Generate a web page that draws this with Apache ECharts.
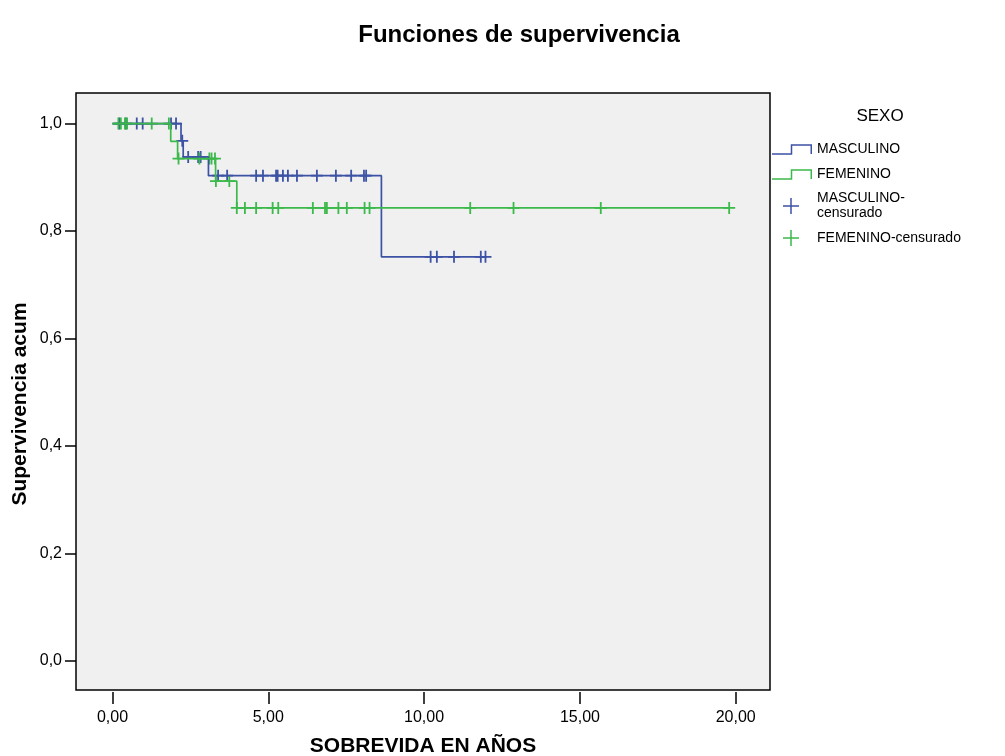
<!DOCTYPE html>
<html>
<head>
<meta charset="utf-8">
<title>Funciones de supervivencia</title>
<script src="https://cdn.jsdelivr.net/npm/echarts@6/dist/echarts.min.js"></script>
<style>
  html, body { margin: 0; padding: 0; background: #fff; }
  #chart { width: 1005px; height: 756px; }
</style>
</head>
<body>
<div id="chart"></div>
<script>
// curvas de Kaplan-Meier (tiempo del escalon, supervivencia despues)
var mascTimes = [0, 2.20, 2.27, 3.08, 8.63, 11.97]
var mascSurv = [1.0, 0.968, 0.938, 0.903, 0.752, 0.752]
var femTimes = [0, 1.87, 2.09, 3.31, 3.99, 19.79]
var femSurv = [1.0, 0.967, 0.935, 0.893, 0.843, 0.843]

// casos censurados (años)
var mascCens = [0.22, 0.43, 0.78, 0.97, 1.88, 2.04, 2.24, 2.43, 2.75, 2.83,
  3.39, 3.68, 4.61, 4.83, 5.25, 5.30, 5.47, 5.63, 5.92, 6.56, 7.17, 7.66, 8.07, 8.14,
  10.21, 10.41, 10.96, 11.82, 11.97]
var femCens = [0.19, 0.27, 0.40, 0.47, 1.26, 1.81, 2.12, 2.79, 3.11, 3.18, 3.29,
  3.32, 3.75, 3.99, 4.25, 4.61, 5.14, 5.32, 6.43, 6.82, 6.88, 7.25, 7.52, 8.09, 8.25,
  11.48, 12.87, 15.67, 19.79]

var xTicks = [0, 5, 10, 15, 20]
var yTicks = [0, 0.2, 0.4, 0.6, 0.8, 1.0]

var BLUE = '#3c52a5'
var GREEN = '#3cb94b'
var FONT = 'Arial, "Liberation Sans", sans-serif'

var PLUS = 'path://M8.5,0H11.5V8.5H20V11.5H11.5V20H8.5V11.5H0V8.5H8.5Z'
var STEP_ICON = 'path://M0,0L0.01,0M40,16L39.99,16M0,12.25H18.75V3.25H40V13H38.5V4.75H20.25V13.75H0Z'
var PLUS_ICON = 'path://M0,0L0.01,0M40,16L39.99,16M18.25,0H19.75V7.25H27V8.75H19.75V16H18.25V8.75H11V7.25H18.25Z'

function zip(xs, ys) {
  return xs.map(function (x, i) { return [x, ys[i]] })
}

// nivel de la curva en el tiempo t
function levelAt(times, surv, t) {
  var v = surv[0]
  for (var i = 0; i < times.length; i++) {
    if (times[i] <= t) v = surv[i]
  }
  return v
}

function censPoints(cens, times, surv) {
  return cens.map(function (t) { return [t, levelAt(times, surv, t)] })
}

var chart = echarts.init(document.getElementById('chart'))

chart.setOption({
  animation: false,
  backgroundColor: '#fff',
  title: {
    text: 'Funciones de supervivencia',
    left: 514,
    top: 18,
    textAlign: 'center',
    textStyle: { fontFamily: FONT, fontSize: 24, fontWeight: 'bold', color: '#000' }
  },
  graphic: [
    {
      type: 'text',
      x: 20,
      y: 404,
      rotation: Math.PI / 2,
      style: {
        text: 'Supervivencia acum',
        font: 'bold 21px ' + FONT,
        fill: '#000',
        align: 'center',
        verticalAlign: 'middle'
      }
    },
    {
      type: 'text',
      x: 880,
      y: 116,
      style: {
        text: 'SEXO',
        font: '17px ' + FONT,
        fill: '#000',
        align: 'center',
        verticalAlign: 'middle'
      }
    }
  ],
  legend: {
    orient: 'vertical',
    left: 772,
    top: 141,
    padding: 0,
    itemGap: 9,
    itemWidth: 40,
    itemHeight: 16,
    selectedMode: false,
    textStyle: { fontFamily: FONT, fontSize: 14, lineHeight: 15, color: '#000' },
    formatter: function (name) {
      return name === 'MASCULINO-censurado' ? 'MASCULINO-\ncensurado' : name
    },
    data: [
      { name: 'MASCULINO', icon: STEP_ICON, itemStyle: { color: BLUE, borderWidth: 0 } },
      { name: 'FEMENINO', icon: STEP_ICON, itemStyle: { color: GREEN, borderWidth: 0 } },
      { name: 'MASCULINO-censurado', icon: PLUS_ICON, itemStyle: { color: BLUE, borderWidth: 0 } },
      { name: 'FEMENINO-censurado', icon: PLUS_ICON, itemStyle: { color: GREEN, borderWidth: 0 } }
    ]
  },
  grid: {
    left: 76,
    right: 235,
    top: 93,
    bottom: 66,
    outerBoundsMode: 'none',
    containLabel: false,
    show: true,
    backgroundColor: '#f0f0f0',
    borderColor: '#000',
    borderWidth: 1.5
  },
  xAxis: {
    type: 'value',
    min: -1.17,
    max: 21.1,
    offset: 2,
    name: 'SOBREVIDA EN AÑOS',
    nameLocation: 'middle',
    nameGap: 44,
    nameTextStyle: { fontFamily: FONT, fontSize: 21, fontWeight: 'bold', color: '#000' },
    axisLine: { show: false, onZero: false },
    splitLine: { show: false },
    axisTick: {
      show: true,
      length: 12,
      customValues: xTicks,
      lineStyle: { color: '#000', width: 1.5 }
    },
    axisLabel: {
      customValues: xTicks,
      margin: 18,
      fontFamily: FONT,
      fontSize: 16,
      color: '#000',
      formatter: function (v) { return v.toFixed(2).replace('.', ',') }
    }
  },
  yAxis: {
    type: 'value',
    min: -0.0545,
    max: 1.057,
    axisLine: { show: false, onZero: false },
    splitLine: { show: false },
    axisTick: {
      show: true,
      length: 11,
      customValues: yTicks,
      lineStyle: { color: '#000', width: 1.5 }
    },
    axisLabel: {
      customValues: yTicks,
      margin: 14,
      fontFamily: FONT,
      fontSize: 16,
      color: '#000',
      formatter: function (v) { return v.toFixed(1).replace('.', ',') }
    }
  },
  series: [
    {
      name: 'MASCULINO',
      type: 'line',
      step: 'end',
      data: zip(mascTimes, mascSurv),
      showSymbol: false,
      symbol: 'none',
      itemStyle: { color: BLUE },
      lineStyle: { color: BLUE, width: 1.7 }
    },
    {
      name: 'FEMENINO',
      type: 'line',
      step: 'end',
      data: zip(femTimes, femSurv),
      showSymbol: false,
      symbol: 'none',
      itemStyle: { color: GREEN },
      lineStyle: { color: GREEN, width: 1.7 }
    },
    {
      name: 'MASCULINO-censurado',
      type: 'scatter',
      symbol: PLUS,
      symbolSize: 12,
      data: censPoints(mascCens, mascTimes, mascSurv),
      itemStyle: { color: BLUE, opacity: 1 }
    },
    {
      name: 'FEMENINO-censurado',
      type: 'scatter',
      symbol: PLUS,
      symbolSize: 12,
      data: censPoints(femCens, femTimes, femSurv),
      itemStyle: { color: GREEN, opacity: 1 }
    }
  ]
})
</script>
</body>
</html>
